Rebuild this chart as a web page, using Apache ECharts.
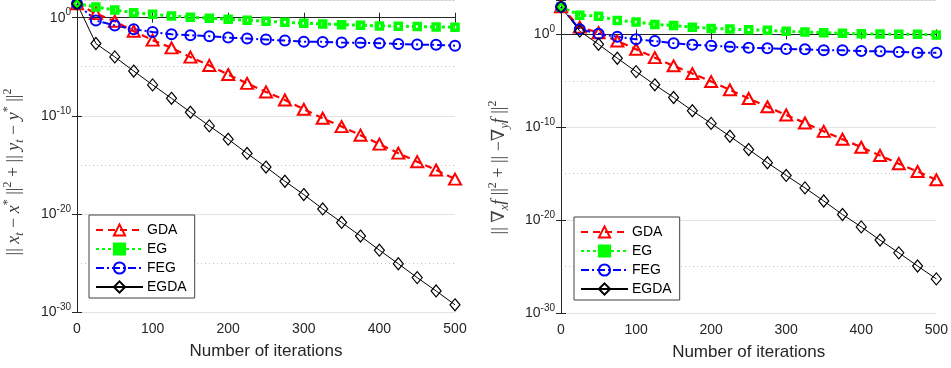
<!DOCTYPE html>
<html>
<head>
<meta charset="utf-8">
<script src="https://cdn.jsdelivr.net/npm/echarts@6/dist/echarts.min.js"></script>
<style>
  html, body { margin: 0; padding: 0; background: #fff; }
  #chart { width: 951px; height: 368px; }
</style>
</head>
<body>
<div id="chart"></div>
<script>
// iterations where markers are drawn
const iterations = [0, 25, 50, 75, 100, 125, 150, 175, 200, 225, 250, 275, 300, 325, 350, 375, 400, 425, 450, 475, 500];
const xTicks = [0, 100, 200, 300, 400, 500];
const yLabelPowers = [-30, -20, -10, 0];

// left panel: ||x_t - x*||^2 + ||y_t - y*||^2
const leftGDA = [26, 2.6, 0.43, 4.2e-2, 5.1e-3, 8.3e-4, 9.5e-5, 1.35e-5, 1.6e-6, 2.0e-7, 2.7e-8, 4.1e-9, 4.6e-10, 5.6e-11, 7.9e-12, 1.05e-12, 1.3e-13, 1.55e-14, 2.1e-15, 2.95e-16, 3.5e-17];
const leftEG = [26, 12.3, 6.0, 3.2, 2.2, 1.5, 1.1, 0.87, 0.69, 0.55, 0.43, 0.34, 0.27, 0.23, 0.195, 0.17, 0.145, 0.135, 0.123, 0.112, 0.107];
const leftFEG = [26, 0.52, 0.16, 6.6e-2, 3.5e-2, 2.0e-2, 1.6e-2, 1.3e-2, 9.3e-3, 7.4e-3, 5.9e-3, 4.6e-3, 3.6e-3, 3.4e-3, 2.9e-3, 2.7e-3, 2.5e-3, 2.1e-3, 1.8e-3, 1.7e-3, 1.4e-3];
const leftEGDA = [26, 2.3e-3, 1.0e-4, 3.6e-6, 1.4e-7, 6.0e-9, 2.3e-10, 9.3e-12, 4.1e-13, 1.45e-14, 5.9e-16, 2.1e-17, 9.3e-19, 3.2e-20, 1.35e-21, 5.5e-23, 2.0e-24, 8.3e-26, 3.2e-27, 1.4e-28, 5.4e-30];

// right panel: ||grad_x f||^2 + ||-grad_y f||^2
const rightGDA = [910, 6.0, 1.5, 0.19, 2.5e-2, 3.1e-3, 4.1e-4, 6.0e-5, 8.3e-6, 1.07e-6, 1.26e-7, 1.6e-8, 2.1e-9, 2.9e-10, 3.6e-11, 5.1e-12, 7.1e-13, 9.1e-14, 1.17e-14, 1.74e-15, 2.2e-16];
const rightEG = [910, 117, 91, 32, 22, 11.7, 9.1, 6.0, 4.4, 3.7, 3.1, 2.7, 2.1, 1.8, 1.5, 1.3, 1.15, 1.07, 1.05, 1.0, 0.87];
const rightFEG = [910, 3.5, 1.15, 0.55, 0.29, 0.19, 0.11, 7.8e-2, 6.0e-2, 4.7e-2, 3.6e-2, 3.2e-2, 2.6e-2, 2.5e-2, 2.0e-2, 1.9e-2, 1.6e-2, 1.5e-2, 1.26e-2, 1.07e-2, 1.02e-2];
const rightEGDA = [910, 2.2, 8.5e-2, 2.7e-3, 9.8e-5, 3.7e-6, 1.6e-7, 6.0e-9, 2.6e-10, 1.07e-11, 4.0e-13, 1.5e-14, 6.5e-16, 2.95e-17, 1.15e-18, 4.0e-20, 1.86e-21, 7.1e-23, 3.0e-24, 1.15e-25, 4.7e-27];

const names = ['GDA', 'EG', 'FEG', 'EGDA'];

const looks = {
  GDA:  { color: '#ff0000', symbol: 'triangle', size: [12, 11], width: 2.2, dash: [7, 5], border: 2 },
  EG:   { color: '#00ff00', symbol: 'rect', size: 6, width: 3, dash: [3, 3], border: 3.5 },
  FEG:  { color: '#0000ff', symbol: 'circle', size: 10, width: 2, dash: [8, 3, 2, 3], border: 2 },
  EGDA: { color: '#000000', symbol: 'diamond', size: [10, 12], width: 1, dash: 'solid', border: 1.2 }
};

const axisColor = '#262626';
const font = 'Liberation Sans, Arial, sans-serif';

function makeSeries(name, values, xi, yi) {
  const l = looks[name];
  return {
    name: name,
    type: 'line',
    xAxisIndex: xi,
    yAxisIndex: yi,
    data: iterations.map((it, k) => [it, Math.log10(values[k])]),
    symbol: l.symbol,
    symbolSize: l.size,
    showAllSymbol: true,
    lineStyle: { color: l.color, width: l.width, type: l.dash },
    itemStyle: { color: 'rgba(255,255,255,0)', borderColor: l.color, borderWidth: l.border },
    emphasis: { disabled: true }
  };
}

const serif = 'Liberation Serif, DejaVu Serif, serif';
const yTitleRich = {
  n: { fontFamily: serif, fontSize: 18, color: '#404040', lineHeight: 24 },
  i: { fontFamily: serif, fontStyle: 'italic', fontSize: 18, color: '#404040', lineHeight: 24 },
  s: { fontFamily: serif, fontStyle: 'italic', fontSize: 12, color: '#404040', lineHeight: 12, verticalAlign: 'bottom' },
  u: { fontFamily: serif, fontSize: 12, color: '#404040', lineHeight: 12, verticalAlign: 'top' }
};

const leftTitle = '{n||| }{i|x}{s|t}{n| − }{i|x}{u|*}{n| ||}{u|2}{n| + || }{i|y}{s|t}{n| − }{i|y}{u|*}{n| ||}{u|2}';
const rightTitle = '{n||| ∇}{s|x}{i|f}{n| ||}{u|2}{n| + || −∇}{s|y}{i|f}{n| ||}{u|2}';

function xAxes(gi) {
  return [{
    gridIndex: gi, type: 'value', position: 'bottom', min: 0, max: 500, interval: 100,
    name: 'Number of iterations', nameLocation: 'middle', nameGap: 31,
    nameTextStyle: { fontFamily: font, fontSize: 17, color: axisColor },
    axisLine: { lineStyle: { color: axisColor, width: 1 } },
    axisTick: { inside: true, length: 5, lineStyle: { color: axisColor } },
    axisLabel: { fontFamily: font, fontSize: 14, color: axisColor, margin: 10,
      formatter: v => xTicks.includes(v) ? String(v) : '' },
    splitLine: { show: false }
  }, {
    gridIndex: gi, type: 'value', position: 'top', min: 0, max: 500, interval: 100,
    axisLine: { lineStyle: { color: axisColor, width: 1 } },
    axisTick: { inside: true, length: 5, lineStyle: { color: axisColor } },
    axisLabel: { show: false },
    splitLine: { show: false }
  }];
}

function yAxes(gi, top, title, gap, shift) {
  return [{
    gridIndex: gi, type: 'value', position: 'left', min: -30, max: top, interval: 10,
    name: title, nameLocation: 'middle', nameGap: gap,
    nameTextStyle: { rich: yTitleRich, padding: [0, shift, 0, 0] },
    axisLine: { lineStyle: { color: axisColor, width: 1 } },
    axisTick: { inside: true, length: 5, lineStyle: { color: axisColor } },
    axisLabel: {
      margin: 6,
      formatter: v => yLabelPowers.includes(v) ? '{b|10}{e|' + v + '}' : '',
      rich: {
        b: { fontFamily: font, fontSize: 14, color: axisColor, lineHeight: 20 },
        e: { fontFamily: font, fontSize: 10, color: axisColor, lineHeight: 10, verticalAlign: 'top' }
      }
    },
    splitLine: { show: true, lineStyle: { color: '#e3e3e3', width: 1 } }
  }, {
    gridIndex: gi, type: 'value', position: 'right', min: -30, max: top, interval: 10,
    axisLine: { lineStyle: { color: axisColor, width: 1 } },
    axisTick: { inside: true, length: 5, lineStyle: { color: axisColor } },
    axisLabel: { show: false },
    splitLine: { show: false }
  }, {
    gridIndex: gi, type: 'value', position: 'right', min: -30, max: top, interval: 5,
    axisLine: { show: false }, axisTick: { show: false }, axisLabel: { show: false },
    splitLine: { show: true, lineStyle: { color: ['rgba(0,0,0,0)', '#c4c4c4'], width: 1, type: [1, 3] } }
  }];
}

function legendFor(left, top) {
  return {
    orient: 'vertical', left: left, top: top,
    data: names.map(n => n === 'EG' ? { name: n, itemStyle: { color: looks.EG.color } } : n),
    itemWidth: 47, itemHeight: 14, itemGap: 5,
    padding: [8, 8, 4, 6],
    backgroundColor: '#fff', borderColor: '#404040', borderWidth: 1, borderRadius: 0,
    textStyle: { fontFamily: font, fontSize: 14, color: '#000', padding: [0, 0, 0, -1] },
    selectedMode: false
  };
}

const chart = echarts.init(document.getElementById('chart'), null, { renderer: 'canvas' });

const series = [];
[leftGDA, leftEG, leftFEG, leftEGDA].forEach((vals, k) => series.push(makeSeries(names[k], vals, 0, 0)));
[rightGDA, rightEG, rightFEG, rightEGDA].forEach((vals, k) => series.push(makeSeries(names[k], vals, 2, 3)));

chart.setOption({
  animation: false,
  backgroundColor: '#fff',
  grid: [
    { left: 77, right: 496, top: -2, bottom: 56, containLabel: false },
    { left: 561, right: 12, top: -1, bottom: 55, containLabel: false }
  ],
  legend: [legendFor(89, 215), legendFor(574, 217)],
  xAxis: [...xAxes(0), ...xAxes(1)],
  yAxis: [...yAxes(0, 1.8, leftTitle, 51, 32), ...yAxes(1, 3.7, rightTitle, 50, 22)],
  series: series
});
</script>
</body>
</html>
